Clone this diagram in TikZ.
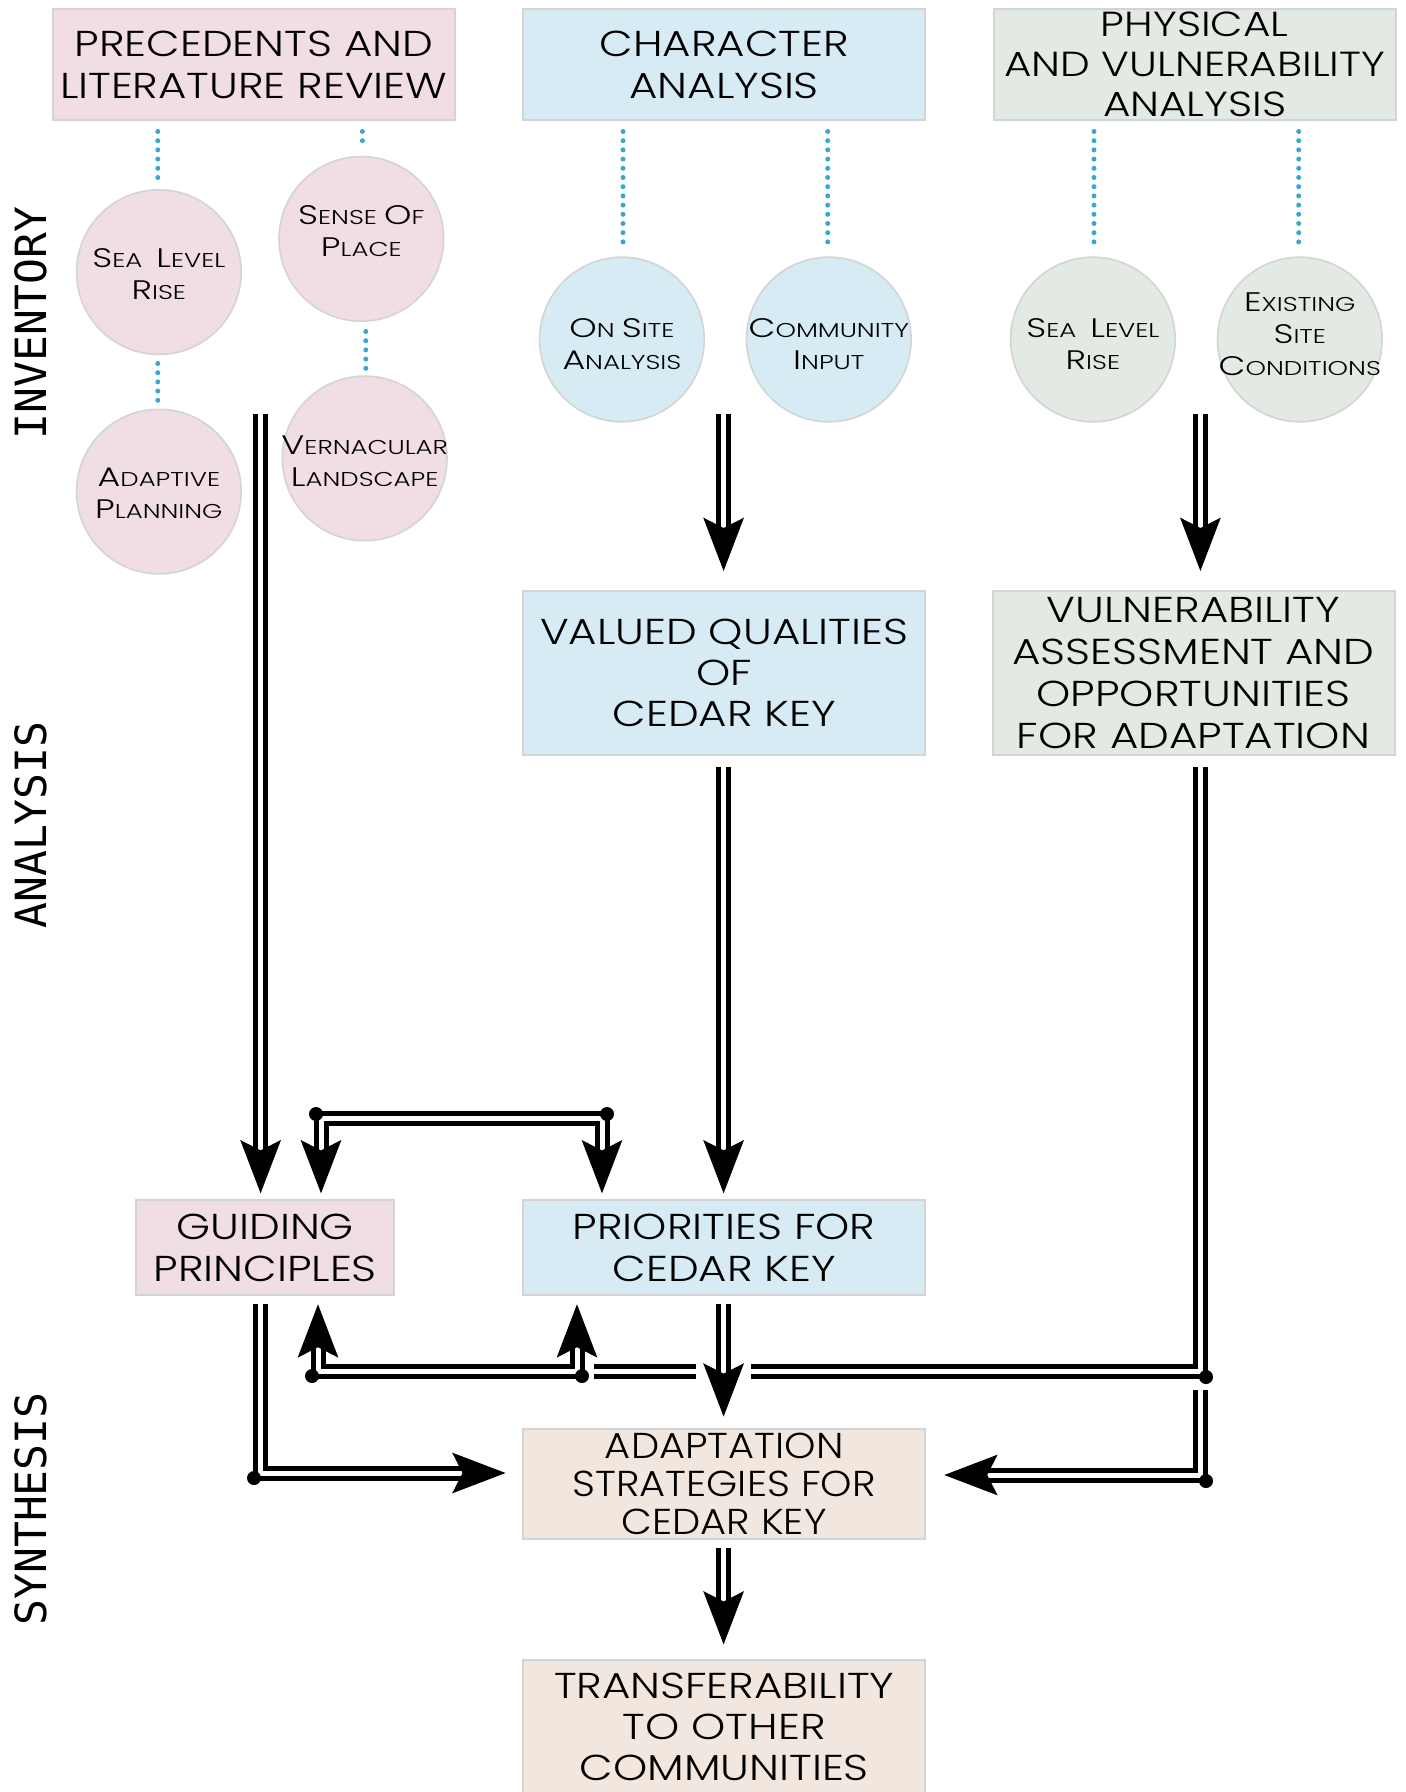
\documentclass[tikz,border=0pt]{standalone}
\usepackage{fontspec}
\usetikzlibrary{arrows.meta}
\IfFontExistsTF{Poppins Light}{%
  \newfontfamily\boxfont{Poppins Light}[FakeStretch=1.21]
  \newfontfamily\asfont{Poppins Light}[FakeStretch=1.11]
  \newfontfamily\circfont{Poppins Light}[FakeStretch=1.3]
}{%
  \newfontfamily\boxfont{Poppins}[FakeStretch=1.21]
  \newfontfamily\asfont{Poppins}[FakeStretch=1.11]
  \newfontfamily\circfont{Poppins}[FakeStretch=1.3]
}
\newfontfamily\sidefont{DejaVu Sans Mono}
\definecolor{pinkfill}{HTML}{F0DDE6}
\definecolor{bluefill}{HTML}{D6EBF3}
\definecolor{greenfill}{HTML}{E3E9E3}
\definecolor{beigefill}{HTML}{F1E7DF}
\definecolor{boxline}{HTML}{D4D4D4}
\definecolor{dotblue}{HTML}{3AA8CB}
\newcommand\Kap[1]{{\fontsize{13.4}{16}\selectfont #1}}
\tikzset{
  box/.style={draw=boxline, line width=1pt, minimum width=201pt, align=center,
    inner sep=0pt, font=\boxfont\fontsize{18}{21}\selectfont},
  circ/.style={circle, draw=boxline, line width=0.8pt, minimum size=82.3pt,
    inner sep=0pt},
  ctext/.style={align=center, inner sep=0pt, font=\circfont\fontsize{10}{16}\selectfont},
  dotline/.style={draw=dotblue, line width=2.5pt, line cap=round, dash pattern=on 0pt off 4.6pt},
  dbl/.style={draw=black, line width=2.5pt, double=white, double distance=2.5pt},
  arr/.style={-{Stealth[length=26.5pt,width=20pt,inset=5pt]}},
  barr/.style={{Stealth[length=26.5pt,width=20pt,inset=5pt]}-{Stealth[length=26.5pt,width=20pt,inset=5pt]}},
  jdot/.style={circle, fill=black, inner sep=0pt, minimum size=7pt},
  side/.style={rotate=90, font=\sidefont\fontsize{21.5}{21.5}\selectfont}
}
\begin{document}
\begin{tikzpicture}[x=0.5pt,y=-0.5pt]
\useasboundingbox (0,0) rectangle (1405,1792);
\fill[white] (0,0) rectangle (1405,1792);

% side labels
\node[side] (inv) at (31,323) {INVENTORY};
\node[side] (ana) at (31,825) {ANALYSIS};
\node[side] (syn) at (31,1509) {SYNTHESIS};

% top boxes
\node[box, fill=pinkfill, minimum height=55.5pt] (B1) at (253.8,64.6) {PRECEDENTS AND\\LITERATURE REVIEW};
\node[box, fill=bluefill, minimum height=55.5pt] (B2) at (724.2,64.6) {CHARACTER\\ANALYSIS};
\node[box, fill=greenfill, minimum height=55.5pt, font=\boxfont\fontsize{17.4}{20}\selectfont] (B3) at (1194.7,64.6) {PHYSICAL\\AND VULNERABILITY\\ANALYSIS};

% circles
\node[circ, fill=pinkfill] (C1) at (158.9,272.1) {};
\node[circ, fill=pinkfill] (C2) at (361.3,238.9) {};
\node[circ, fill=pinkfill] (C3) at (158.9,491.6) {};
\node[circ, fill=pinkfill] (C4) at (364.7,458.4) {};
\node[circ, fill=bluefill] (C5) at (621.9,339.5) {};
\node[circ, fill=bluefill] (C6) at (828.8,339.5) {};
\node[circ, fill=greenfill] (C7) at (1092.9,339.5) {};
\node[circ, fill=greenfill] (C8) at (1299.8,339.5) {};
\node[ctext] (T1) at ([yshift=-1pt]C1.center) {\Kap{S}EA\hspace{7pt}\Kap{L}EVEL\\\Kap{R}ISE};
\node[ctext] (T2) at ([yshift=4pt]C2.center) {\Kap{S}ENSE \Kap{O}F\\\Kap{P}LACE};
\node[ctext] (T3) at ([yshift=-1pt]C3.center) {\Kap{A}DAPTIVE\\\Kap{P}LANNING};
\node[ctext] (T4) at ([yshift=-1.2pt]C4.center) {\Kap{V}ERNACULAR\\\Kap{L}ANDSCAPE};
\node[ctext] (T5) at ([yshift=-2.3pt]C5.center) {\Kap{O}N \Kap{S}ITE\\\Kap{A}NALYSIS};
\node[ctext] (T6) at ([yshift=-2.3pt]C6.center) {\Kap{C}OMMUNITY\\\Kap{I}NPUT};
\node[ctext] (T7) at ([yshift=-2.3pt]C7.center) {\Kap{S}EA\hspace{7pt}\Kap{L}EVEL\\\Kap{R}ISE};
\node[ctext] (T8) at ([yshift=2.5pt]C8.center) {\Kap{E}XISTING\\\Kap{S}ITE\\\Kap{C}ONDITIONS};

% middle and lower boxes
\node[box, fill=bluefill, minimum height=81.75pt, font=\boxfont\fontsize{18}{20.5}\selectfont] (VQ) at (724.2,672.8) {VALUED QUALITIES\\OF\\CEDAR KEY};
\node[box, fill=greenfill, minimum height=81.75pt] (VA) at (1193.5,672.8) {VULNERABILITY\\ASSESSMENT AND\\OPPORTUNITIES\\FOR ADAPTATION};
\node[box, fill=pinkfill, minimum width=129.2pt, minimum height=47.4pt] (GP) at (265.2,1247.8) {GUIDING\\PRINCIPLES};
\node[box, fill=bluefill, minimum height=47.4pt] (PR) at (724.2,1247.8) {PRIORITIES FOR\\CEDAR KEY};
\node[box, fill=beigefill, minimum height=54.85pt, font=\asfont\fontsize{18}{19}\selectfont] (AS) at (724.2,1483.9) {ADAPTATION\\STRATEGIES FOR\\CEDAR KEY};
\node[box, fill=beigefill, minimum height=67pt, font=\boxfont\fontsize{18}{20.5}\selectfont] (TR) at (724.2,1726.5) {TRANSFERABILITY\\TO OTHER\\COMMUNITIES};

% dotted links
\draw[dotline] (157.8,131.5) -- (157.8,183);
\draw[dotline] (157.8,363.5) -- (157.8,402.4);
\draw[dotline] (362.4,131.5) -- (362.4,148.6);
\draw[dotline] (365.8,331.5) -- (365.8,371.5);
\draw[dotline] (623,131.5) -- (623,245.8);
\draw[dotline] (827.7,131.5) -- (827.7,245.8);
\draw[dotline] (1094,131.5) -- (1094,245.8);
\draw[dotline] (1298.7,131.5) -- (1298.7,245.8);

% free ends and corners
\coordinate (t1) at (260.6,413.8);
\coordinate (t2) at (723.6,413.8);
\coordinate (t3) at (1200.4,413.8);
\coordinate (tl) at (321,1118);
\coordinate (tr) at (602,1118);
\coordinate (bl) at (318,1371.5);
\coordinate (bm) at (577,1371.5);
\coordinate (g1) at (260,1473);
\coordinate (r1) at (1200.4,1371.5);
\coordinate (h1) at (751,1371.5);
\coordinate (h2) at (696,1371.5);
\coordinate (h3) at (594,1371.5);
\coordinate (r2s) at (1200.4,1390);
\coordinate (r2) at (1200.4,1475);

% double arrows
\draw[dbl,arr,shorten >=3pt] (t1) -- (t1 |- GP.north);
\draw[dbl,arr,shorten >=9.5pt] (t2) -- (t2 |- VQ.north);
\draw[dbl,arr,shorten >=9.5pt] (t3) -- (t3 |- VA.north);
\draw[dbl,arr,shorten <=5.75pt,shorten >=3pt] (t2 |- VQ.south) -- (t2 |- PR.north);
\draw[dbl,arr,shorten <=4pt,shorten >=5.7pt] (t2 |- PR.south) -- (t2 |- AS.north);
\draw[dbl,arr,shorten <=4pt,shorten >=7pt] (t2 |- AS.south) -- (t2 |- TR.north);
\draw[dbl,arr,shorten <=4pt,shorten >=8.3pt] (g1 |- GP.south) -- (g1) -- (g1 -| AS.west);
\draw[dbl,barr,shorten <=3pt,shorten >=3pt] (tl |- GP.north) -- (tl) -- (tr) -- (tr |- PR.north);
\draw[dbl,barr,shorten <=4pt,shorten >=4pt] (bl |- GP.south) -- (bl) -- (bm) -- (bm |- PR.south);
\draw[dbl,shorten <=5.75pt] (t3 |- VA.south) -- (r1) -- (h1);
\draw[dbl] (h2) -- (h3);
\draw[dbl,arr,shorten >=9pt] (r2s) -- (r2) -- (r2 -| AS.east);

% junction dots
\node[jdot] (d1) at (316,1114) {};
\node[jdot] (d2) at (607,1114) {};
\node[jdot] (d3) at (312,1376) {};
\node[jdot] (d4) at (582,1376) {};
\node[jdot] (d5) at (1206,1377) {};
\node[jdot] (d6) at (1206,1481) {};
\node[jdot] (d7) at (254,1478) {};
\end{tikzpicture}
\end{document}
